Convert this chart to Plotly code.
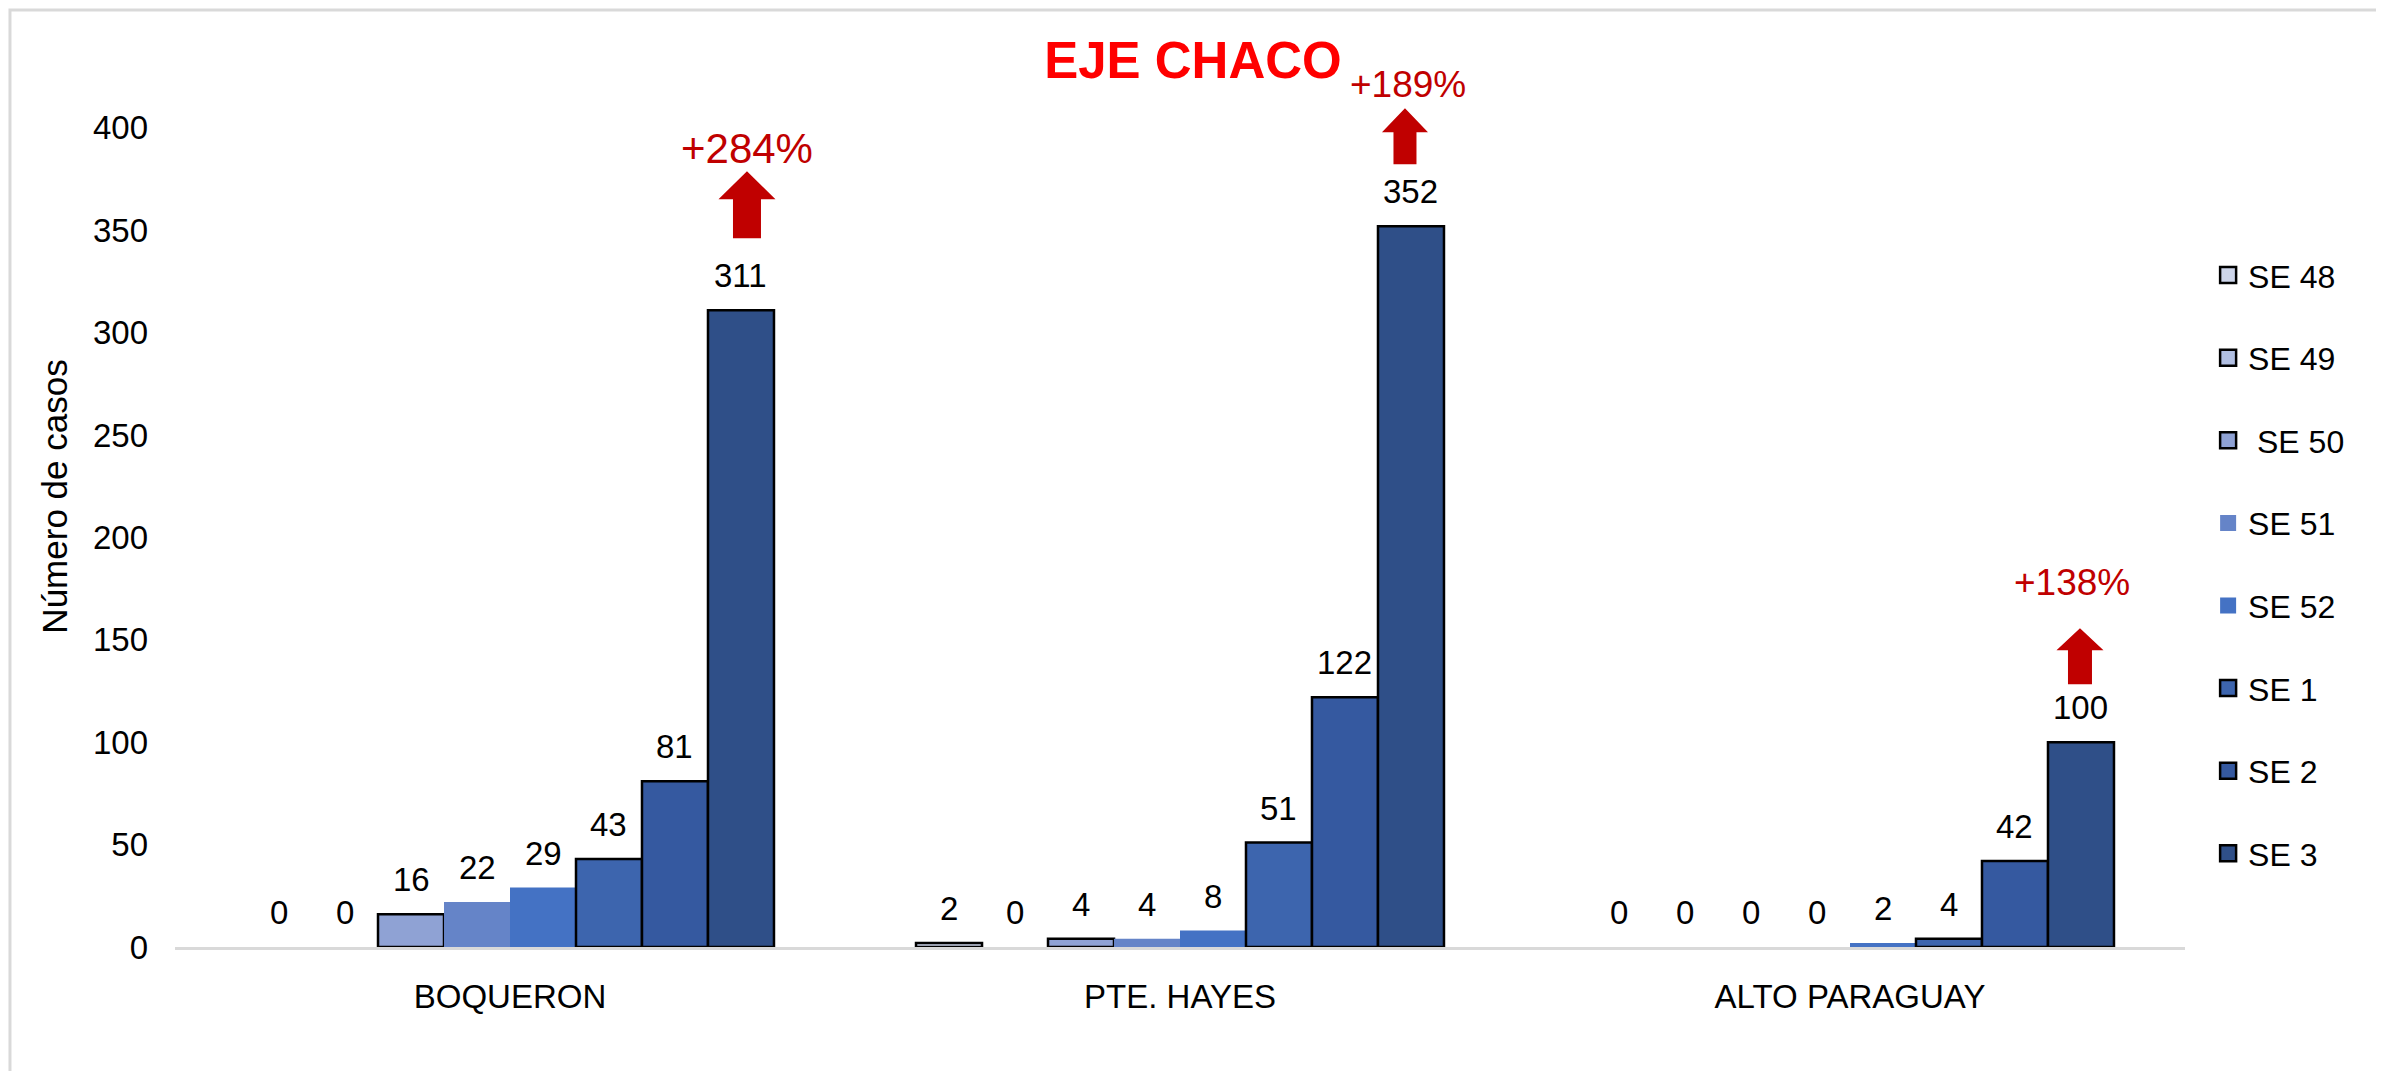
import plotly.graph_objects as go

# ---- data ----
regions = ["BOQUERON", "PTE. HAYES", "ALTO PARAGUAY"]
series_names = ["SE 48", "SE 49", " SE 50", "SE 51", "SE 52", "SE 1", "SE 2", "SE 3"]
se48 = [0, 2, 0]
se49 = [0, 0, 0]
se50 = [16, 4, 0]
se51 = [22, 4, 0]
se52 = [29, 8, 2]
se1 = [43, 51, 4]
se2 = [81, 122, 42]
se3 = [311, 352, 100]
series_values = [se48, se49, se50, se51, se52, se1, se2, se3]
pct_labels = ["+284%", "+189%", "+138%"]
title_text = "EJE CHACO"
y_title = "Número de casos"

# ---- styles ----
colors = ["#cdd5ea", "#b1bfe2", "#8fa2d4", "#6584c8", "#4472c4", "#3d65ae", "#3559a0", "#2f4f88"]
bordered = [True, True, True, False, False, True, True, True]
FONT = "Liberation Sans, Arial, sans-serif"
BARGAP = 0.212
n_series = len(series_names)
bw = (1 - BARGAP) / n_series

fig = go.Figure()
for j, (name, vals) in enumerate(zip(series_names, series_values)):
    lw = [2.5 if (bordered[j] and v > 0) else 0 for v in vals]
    fig.add_trace(go.Bar(
        x=regions, y=vals, name=name, showlegend=False,
        marker=dict(color=colors[j], line=dict(color="black", width=lw)),
        hoverinfo="x+y+name",
    ))
# legend entries (square swatches)
for j, name in enumerate(series_names):
    fig.add_trace(go.Scatter(
        x=[None], y=[None], mode="markers", name=name, legendgroup=f"g{j}",
        marker=dict(symbol="square", size=16, color=colors[j],
                    line=dict(color="black", width=2.5 if bordered[j] else 0)),
        hoverinfo="skip",
    ))

annotations = []
# value labels above each bar
for j, vals in enumerate(series_values):
    for ci, v in enumerate(vals):
        annotations.append(dict(
            x=ci + (j - (n_series - 1) / 2) * bw, y=v, xref="x", yref="y",
            text=str(v), showarrow=False, yanchor="bottom", yshift=14,
            font=dict(family=FONT, size=33, color="black"),
        ))

# percentage change labels + block arrows above SE 3 bars
pct_style = [dict(size=42, yshift=162, xshift=6),
             dict(size=37, yshift=142, xshift=-3),
             dict(size=37, yshift=160, xshift=-9)]
arrow_style = [dict(b=72, h=111, t=139, s=14, w=28.5, dx=6),
               dict(b=62, h=94, t=118, s=11.5, w=23, dx=-6),
               dict(b=58, h=92, t=114, s=12, w=23.5, dx=-1)]
shapes = []
last = n_series - 1
for ci, txt in enumerate(pct_labels):
    xa = ci + (last - (n_series - 1) / 2) * bw
    ya = se3[ci]
    ps = pct_style[ci]
    annotations.append(dict(
        x=xa, y=ya, xref="x", yref="y", text=txt, showarrow=False,
        yanchor="middle", yshift=ps["yshift"], xshift=ps["xshift"],
        font=dict(family=FONT, size=ps["size"], color="#c00000"),
    ))
    a = arrow_style[ci]
    d = a["dx"]
    path = (f"M{d - a['s']},{a['b']} L{d + a['s']},{a['b']} L{d + a['s']},{a['h']} "
            f"L{d + a['w']},{a['h']} L{d},{a['t']} L{d - a['w']},{a['h']} "
            f"L{d - a['s']},{a['h']} Z")
    shapes.append(dict(
        type="path", xref="x", yref="y", xsizemode="pixel", ysizemode="pixel",
        xanchor=xa, yanchor=ya, path=path,
        fillcolor="#c00000", line=dict(width=0),
    ))

# outer light frame
shapes.append(dict(type="rect", xref="paper", yref="paper",
                   x0=-0.0821, x1=1.0995, y0=-0.1443, y1=1.0400,
                   line=dict(color="#d9d9d9", width=3), layer="below"))

fig.update_layout(
    width=2384, height=1071, autosize=False,
    margin=dict(l=167, r=207, t=38, b=132),
    paper_bgcolor="white", plot_bgcolor="white",
    barmode="group", bargap=BARGAP, bargroupgap=0,
    font=dict(family=FONT, size=33, color="black"),
    title=dict(text=f"<b>{title_text}</b>", x=1185 / 2384, xref="container",
               xanchor="center", y=1 - 52 / 1071, yref="container", yanchor="middle",
               font=dict(family=FONT, size=51, color="#ff0000")),
    legend=dict(x=1.0115, xanchor="left", y=0.776, yanchor="top",
                font=dict(family=FONT, size=32, color="black"),
                tracegroupgap=38, bgcolor="rgba(0,0,0,0)"),
    annotations=annotations,
    shapes=shapes,
    showlegend=True,
)
fig.update_xaxes(type="category", showline=True, linecolor="#d9d9d9", linewidth=3,
                 ticks="", showgrid=False, zeroline=False,
                 tickfont=dict(family=FONT, size=33), ticklabelstandoff=18)
fig.update_yaxes(range=[0, 440], tick0=0, dtick=50, showgrid=False, zeroline=False,
                 showline=False, ticks="", ticklabelstandoff=26,
                 tickfont=dict(family=FONT, size=33),
                 title=dict(text=y_title, standoff=14,
                            font=dict(family=FONT, size=35, color="black")))

fig.write_html("out.html")
